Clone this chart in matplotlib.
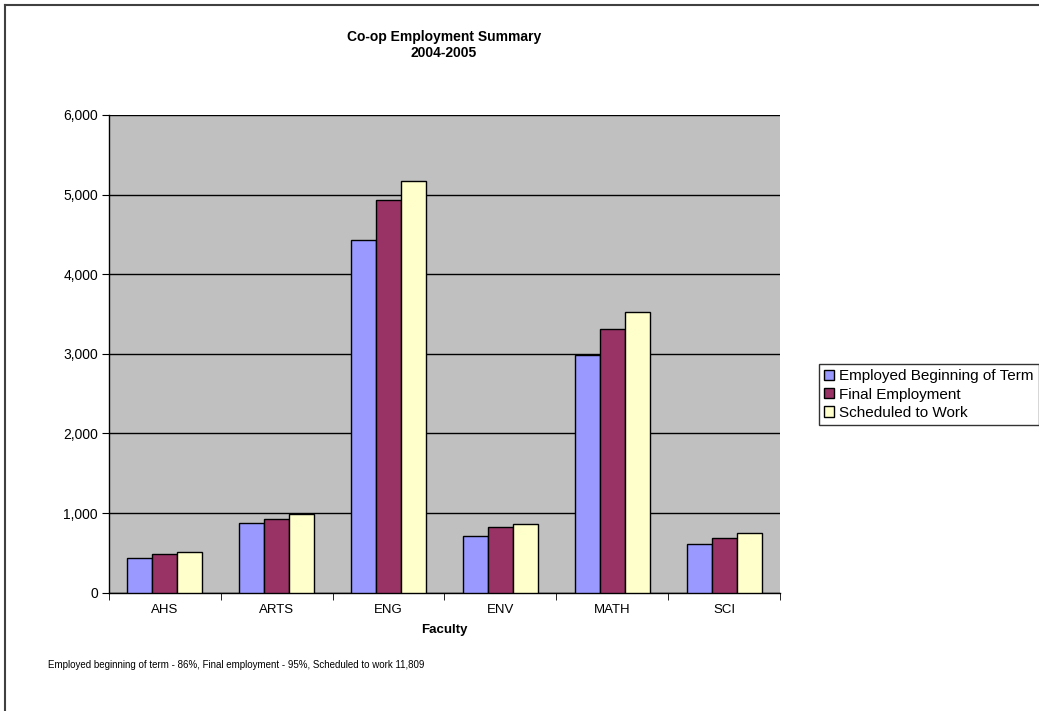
import numpy as np
import matplotlib
matplotlib.use("Agg")
import matplotlib.pyplot as plt
from matplotlib.lines import Line2D

plt.rcParams['font.family'] = ['Liberation Sans', 'DejaVu Sans']

faculties = ["AHS", "ARTS", "ENG", "ENV", "MATH", "SCI"]
employed_begin = [440, 879, 4426, 712, 2985, 607]
final_employment = [486, 930, 4933, 829, 3308, 687]
scheduled = [511, 984, 5176, 858, 3530, 745]
series_names = ["Employed Beginning of Term", "Final Employment", "Scheduled to Work"]
series_colors = ["#9999FF", "#993366", "#FFFFCC"]
yticks = [0, 1000, 2000, 3000, 4000, 5000, 6000]

fig = plt.figure(figsize=(10.39, 7.11), dpi=100)
ax = fig.add_axes([109/1039, 1-592.7/711, (780-109)/1039, (592.7-115)/711])
ax.set_facecolor("#C0C0C0")

x = np.arange(len(faculties))
w = 0.224
for i, (vals, col, name) in enumerate(zip([employed_begin, final_employment, scheduled],
                                          series_colors, series_names)):
    ax.bar(x + (i-1)*w, vals, width=w, color=col, edgecolor="black", linewidth=1.0,
           label=name, zorder=3)

ax.set_xlim(-0.5, len(faculties)-0.5)
ax.set_ylim(0, 6000)
ax.set_yticks(yticks)
ax.set_yticklabels(["{:,}".format(v) for v in yticks], fontsize=10)
ax.yaxis.grid(True, color="black", linewidth=1.0, zorder=0)
ax.set_axisbelow(True)

ax.set_xticks(x)
ax.set_xticklabels(faculties, fontsize=9.5)
ax.tick_params(axis='x', length=0, pad=8)
ax.set_xticks(np.arange(-0.5, len(faculties)), minor=True)
ax.tick_params(axis='x', which='minor', length=5, direction='out')
ax.tick_params(axis='y', length=5, direction='out', pad=3)

for s in ["top", "right"]:
    ax.spines[s].set_visible(False)
ax.spines["left"].set_linewidth(1.0)
ax.spines["bottom"].set_linewidth(1.0)

ax.set_xlabel("Faculty", fontsize=9.5, fontweight="bold", labelpad=6)

fig.text(444/1039, 1-45/711, "Co-op Employment Summary\n2004-2005", ha="center", va="center",
         fontsize=10, fontweight="bold", linespacing=1.25)

fig.text(48/1039, 1-665/711,
         "Employed beginning of term - 86%, Final employment - 95%, Scheduled to work 11,809",
         fontsize=7, ha="left", va="center")

leg = fig.legend(loc="upper left", bbox_to_anchor=(819/1039, 1-364/711), fontsize=11,
                 frameon=True, fancybox=False, edgecolor="black", handlelength=0.65,
                 handleheight=0.65, handletextpad=0.3, borderpad=0.35, labelspacing=0.28,
                 borderaxespad=0)
leg.get_frame().set_linewidth(1.0)

# outer chart border
fig.add_artist(Line2D([5/1039, 5/1039], [0, 1-5/711], color="#404040", linewidth=1.5,
                      transform=fig.transFigure))
fig.add_artist(Line2D([5/1039, 1], [1-5/711, 1-5/711], color="#404040", linewidth=1.5,
                      transform=fig.transFigure))

fig.savefig("out.png", dpi=100)
